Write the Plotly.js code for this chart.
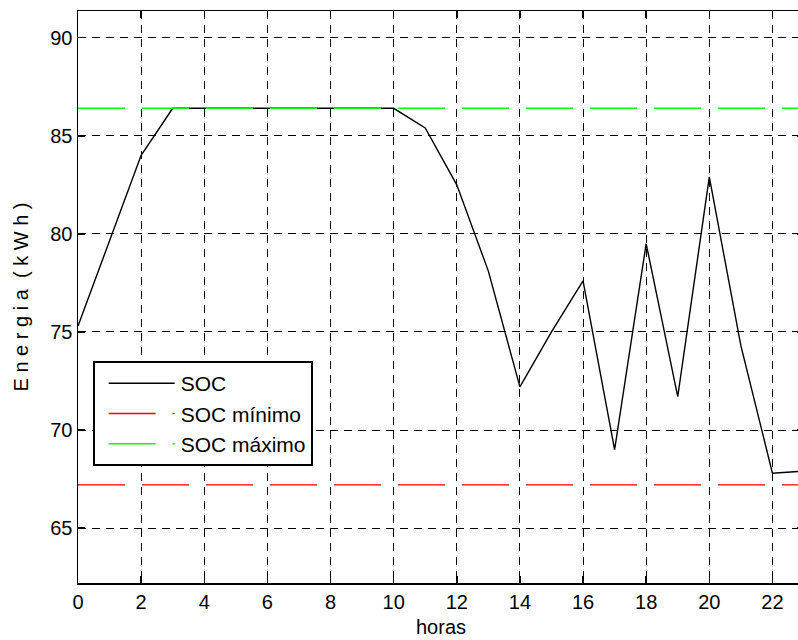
<!DOCTYPE html>
<html>
<head>
<meta charset="utf-8">
<script src="https://cdn.plot.ly/plotly-3.0.1.min.js"></script>
<style>
  html, body { margin: 0; padding: 0; background: #fff; overflow: hidden; width: 798px; height: 640px; }
  #chart { width: 806px; height: 640px; }
</style>
</head>
<body>
<div id="chart"></div>
<script>
// Data
const hours = [0, 1, 2, 3, 4, 5, 6, 7, 8, 9, 10, 11, 12, 13, 14, 15, 16, 17, 18, 19, 20, 21, 22, 23];
const soc   = [75.3, 79.6, 84.0, 86.4, 86.4, 86.4, 86.4, 86.4, 86.4, 86.4, 86.4, 85.4, 82.5, 78.1,
               72.2, 75.0, 77.6, 69.0, 79.5, 71.7, 82.9, 74.3, 67.8, 67.9];
const socMinValue = 67.2;
const socMaxValue = 86.4;
const seriesNames = ["SOC", "SOC mínimo", "SOC máximo"];
const xTicks = [0, 2, 4, 6, 8, 10, 12, 14, 16, 18, 20, 22];
const yTicks = [65, 70, 75, 80, 85, 90];

const socMin = hours.map(() => socMinValue);
const socMax = hours.map(() => socMaxValue);

const font = "Liberation Sans, Arial, Helvetica, sans-serif";

const traces = [
  { x: hours, y: soc, type: "scatter", mode: "lines", name: seriesNames[0], legendgroup: "g1",
    line: { color: "#000000", width: 1.4 } },
  { x: hours, y: socMin, type: "scatter", mode: "lines", name: seriesNames[1], legendgroup: "g2",
    line: { color: "#ff0000", width: 1.4, dash: "47px,17px" } },
  { x: hours, y: socMax, type: "scatter", mode: "lines", name: seriesNames[2], legendgroup: "g3",
    line: { color: "#00ff00", width: 1.4, dash: "47px,17px" } }
];

const axisCommon = {
  showline: true, linecolor: "#000", linewidth: 1.5, mirror: "ticks",
  ticks: "inside", ticklen: 7, tickwidth: 1.5, tickcolor: "#000",
  showgrid: true, gridcolor: "#000", gridwidth: 1, griddash: "8px,6px",
  zeroline: false, tickfont: { family: font, size: 20, color: "#000" },
  automargin: false
};

const layout = {
  width: 806, height: 640,
  margin: { l: 78, r: 2, t: 11, b: 57 },
  paper_bgcolor: "#fff", plot_bgcolor: "#fff",
  font: { family: font, color: "#000" },
  showlegend: true,
  legend: {
    x: 0.0202, y: 0.388, xanchor: "left", yanchor: "top",
    bgcolor: "#fff", bordercolor: "#000", borderwidth: 2,
    itemwidth: 76, tracegroupgap: 0,
    font: { family: font, size: 21, color: "#000" }
  },
  xaxis: Object.assign({}, axisCommon, {
    range: [0, 23], tickvals: xTicks, ticktext: xTicks.map(String),
    title: { text: "horas", font: { family: font, size: 20, color: "#000" }, standoff: 8 }
  }),
  yaxis: Object.assign({}, axisCommon, {
    range: [62.2, 91.36], tickvals: yTicks, ticktext: yTicks.map(String),
    title: { text: "E n e r g i a  ( k W h )", font: { family: font, size: 20, color: "#000" } }
  })
};

Plotly.newPlot("chart", traces, layout, { staticPlot: true, displayModeBar: false }).then(gd => {
  // lengthen the legend line samples to match the MATLAB-style legend
  gd.querySelectorAll(".legend .legendlines path").forEach(p => p.setAttribute("d", "M14,0h66"));
});
</script>
</body>
</html>
